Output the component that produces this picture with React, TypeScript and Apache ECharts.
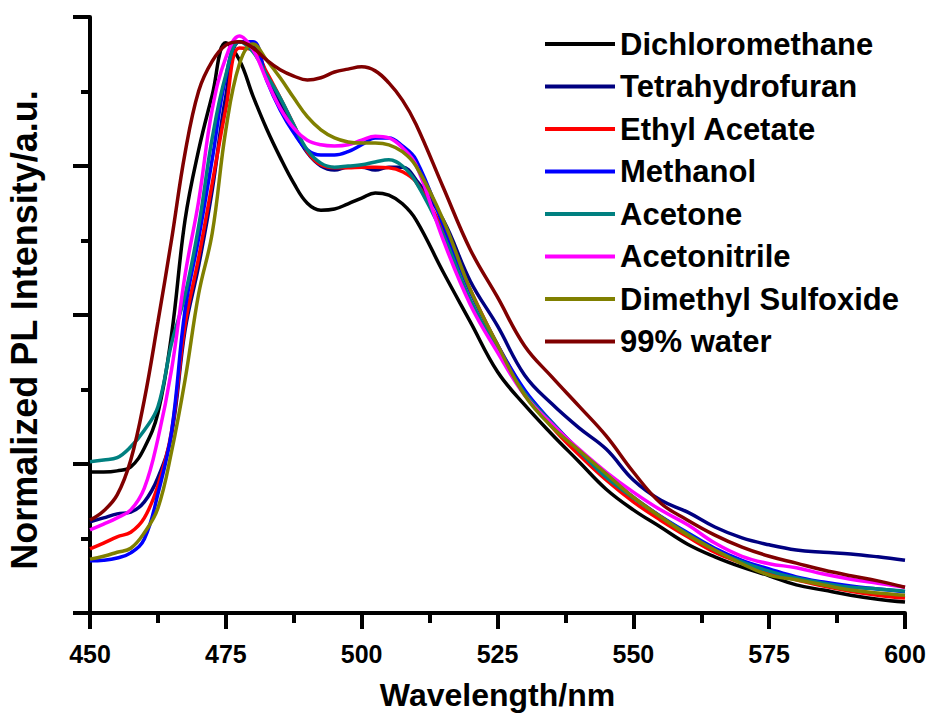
import React, { useEffect, useRef } from "react";
import * as echarts from "echarts";

const wavelengths = [
  450, 452.5, 455, 457.5, 460, 462.5, 465, 467.5, 470, 472.5, 475, 477.5, 480, 482.5, 485, 487.5, 490,
  492.5, 495, 497.5, 500, 502.5, 505, 507.5, 510, 515, 520, 525, 530, 535, 540, 545, 550, 555, 560, 565,
  570, 575, 580, 585, 590, 595, 600,
];

const seriesNames = [
  "Dichloromethane",
  "Tetrahydrofuran",
  "Ethyl Acetate",
  "Methanol",
  "Acetone",
  "Acetonitrile",
  "Dimethyl Sulfoxide",
  "99% water",
];

const seriesColors = ["#000000", "#000080", "#ff0000", "#0000ff", "#008080", "#ff00ff", "#808000", "#800000"];

const dichloromethane = [
  0.246, 0.246, 0.248, 0.255, 0.288, 0.349, 0.485, 0.686, 0.808, 0.904, 0.995, 0.965, 0.902, 0.845, 0.795,
  0.75, 0.715, 0.703, 0.705, 0.714, 0.724, 0.733, 0.729, 0.714, 0.686, 0.595, 0.508, 0.421, 0.363, 0.312,
  0.264, 0.216, 0.18, 0.15, 0.12, 0.098, 0.08, 0.065, 0.049, 0.04, 0.031, 0.024, 0.019,
];
const tetrahydrofuran = [
  0.159, 0.166, 0.173, 0.176, 0.194, 0.236, 0.311, 0.494, 0.606, 0.738, 0.902, 0.997, 0.991, 0.939, 0.89,
  0.843, 0.803, 0.78, 0.773, 0.778, 0.778, 0.773, 0.778, 0.778, 0.756, 0.686, 0.579, 0.501, 0.415, 0.365,
  0.323, 0.286, 0.232, 0.197, 0.176, 0.15, 0.131, 0.119, 0.11, 0.106, 0.103, 0.098, 0.092,
];
const ethylAcetate = [
  0.112, 0.122, 0.133, 0.141, 0.166, 0.222, 0.316, 0.503, 0.62, 0.75, 0.88, 0.986, 0.983, 0.944, 0.899,
  0.852, 0.805, 0.782, 0.777, 0.777, 0.778, 0.778, 0.777, 0.77, 0.752, 0.668, 0.564, 0.468, 0.386, 0.325,
  0.276, 0.232, 0.194, 0.162, 0.133, 0.106, 0.087, 0.07, 0.058, 0.047, 0.038, 0.031, 0.026,
];
const methanol = [
  0.091, 0.092, 0.096, 0.105, 0.129, 0.208, 0.316, 0.529, 0.654, 0.792, 0.935, 0.997, 0.997, 0.93, 0.878,
  0.838, 0.808, 0.799, 0.799, 0.805, 0.817, 0.829, 0.829, 0.815, 0.791, 0.677, 0.56, 0.468, 0.389, 0.333,
  0.284, 0.241, 0.202, 0.169, 0.14, 0.113, 0.092, 0.077, 0.063, 0.054, 0.047, 0.042, 0.037,
];
const acetone = [
  0.264, 0.267, 0.271, 0.29, 0.319, 0.36, 0.47, 0.555, 0.675, 0.829, 0.939, 0.997, 0.979, 0.939, 0.899,
  0.852, 0.808, 0.785, 0.778, 0.78, 0.782, 0.787, 0.791, 0.78, 0.752, 0.66, 0.546, 0.459, 0.384, 0.332,
  0.283, 0.237, 0.201, 0.168, 0.138, 0.11, 0.089, 0.073, 0.061, 0.052, 0.045, 0.042, 0.038,
];
const acetonitrile = [
  0.145, 0.155, 0.166, 0.18, 0.218, 0.304, 0.424, 0.59, 0.719, 0.879, 0.969, 1.007, 0.983, 0.93, 0.881,
  0.846, 0.825, 0.817, 0.815, 0.817, 0.825, 0.832, 0.829, 0.812, 0.782, 0.651, 0.538, 0.455, 0.38, 0.33,
  0.286, 0.246, 0.211, 0.18, 0.154, 0.122, 0.099, 0.086, 0.079, 0.068, 0.059, 0.052, 0.045,
];
const dimethylSulfoxide = [
  0.094, 0.099, 0.106, 0.113, 0.14, 0.183, 0.281, 0.407, 0.557, 0.663, 0.843, 0.958, 0.993, 0.965, 0.934,
  0.899, 0.866, 0.843, 0.829, 0.822, 0.82, 0.82, 0.817, 0.805, 0.78, 0.686, 0.564, 0.468, 0.38, 0.325,
  0.284, 0.243, 0.202, 0.168, 0.136, 0.11, 0.086, 0.066, 0.058, 0.049, 0.04, 0.035, 0.031,
];
const water99 = [
  0.162, 0.178, 0.206, 0.267, 0.372, 0.508, 0.651, 0.803, 0.911, 0.963, 0.991, 0.997, 0.986, 0.965, 0.948,
  0.937, 0.93, 0.934, 0.944, 0.949, 0.953, 0.946, 0.925, 0.895, 0.853, 0.743, 0.634, 0.551, 0.466, 0.412,
  0.361, 0.309, 0.246, 0.192, 0.162, 0.136, 0.115, 0.099, 0.087, 0.075, 0.065, 0.056, 0.045,
];

const allSeries = [
  dichloromethane,
  tetrahydrofuran,
  ethylAcetate,
  methanol,
  acetone,
  acetonitrile,
  dimethylSulfoxide,
  water99,
];

export default function App() {
  const ref = useRef<HTMLDivElement>(null);
  useEffect(() => {
    const chart = echarts.init(ref.current as HTMLDivElement, null, { renderer: "svg" });
    const font = "'Liberation Sans', Arial, sans-serif";
    const axisLineStyle = { color: "#000", width: 4 };
    chart.setOption({
      animation: false,
      backgroundColor: "#ffffff",
      grid: { left: 90, right: 28, top: 17, bottom: 102, outerBoundsMode: "none", containLabel: false },
      legend: {
        orient: "vertical",
        left: 540,
        top: 22,
        itemWidth: 70,
        itemHeight: 4,
        itemGap: 8.5,
        icon: "rect",
        data: seriesNames,
        textStyle: { fontSize: 31, fontWeight: "bold", color: "#000", fontFamily: font, lineHeight: 34 },
      },
      xAxis: {
        type: "value",
        min: 450,
        max: 600,
        interval: 25,
        axisLine: { show: true, onZero: false, lineStyle: axisLineStyle },
        axisTick: { show: true, inside: false, length: 16, lineStyle: axisLineStyle },
        minorTick: { show: true, splitNumber: 2, length: 10, lineStyle: axisLineStyle },
        splitLine: { show: false },
        axisLabel: { fontSize: 25, fontWeight: "bold", color: "#000", fontFamily: font, margin: 28 },
        name: "Wavelength/nm",
        nameLocation: "middle",
        nameGap: 66,
        nameTextStyle: { fontSize: 32, fontWeight: "bold", color: "#000", fontFamily: font },
      },
      yAxis: {
        type: "value",
        min: 0,
        max: 1.04,
        interval: 0.26,
        axisLine: { show: true, onZero: false, lineStyle: axisLineStyle },
        axisTick: { show: true, inside: false, length: 17, lineStyle: axisLineStyle },
        minorTick: { show: true, splitNumber: 2, length: 9, lineStyle: axisLineStyle },
        splitLine: { show: false },
        axisLabel: { show: false },
        name: "Normalized PL Intensity/a.u.",
        nameLocation: "middle",
        nameGap: 48,
        nameTextStyle: {
          fontSize: 36,
          fontWeight: "bold",
          color: "#000",
          fontFamily: font,
          padding: [0, 30, 0, 0],
        },
      },
      series: allSeries.map((vals, i) => ({
        name: seriesNames[i],
        type: "line",
        data: wavelengths.map((w, j) => [w, vals[j]]),
        showSymbol: false,
        smooth: 0.4,
        lineStyle: { width: 3.5, color: seriesColors[i] },
        itemStyle: { color: seriesColors[i] },
      })),
    });
    return () => chart.dispose();
  }, []);
  return <div ref={ref} style={{ position: "fixed", left: 0, top: 0, width: 933, height: 715 }} />;
}
